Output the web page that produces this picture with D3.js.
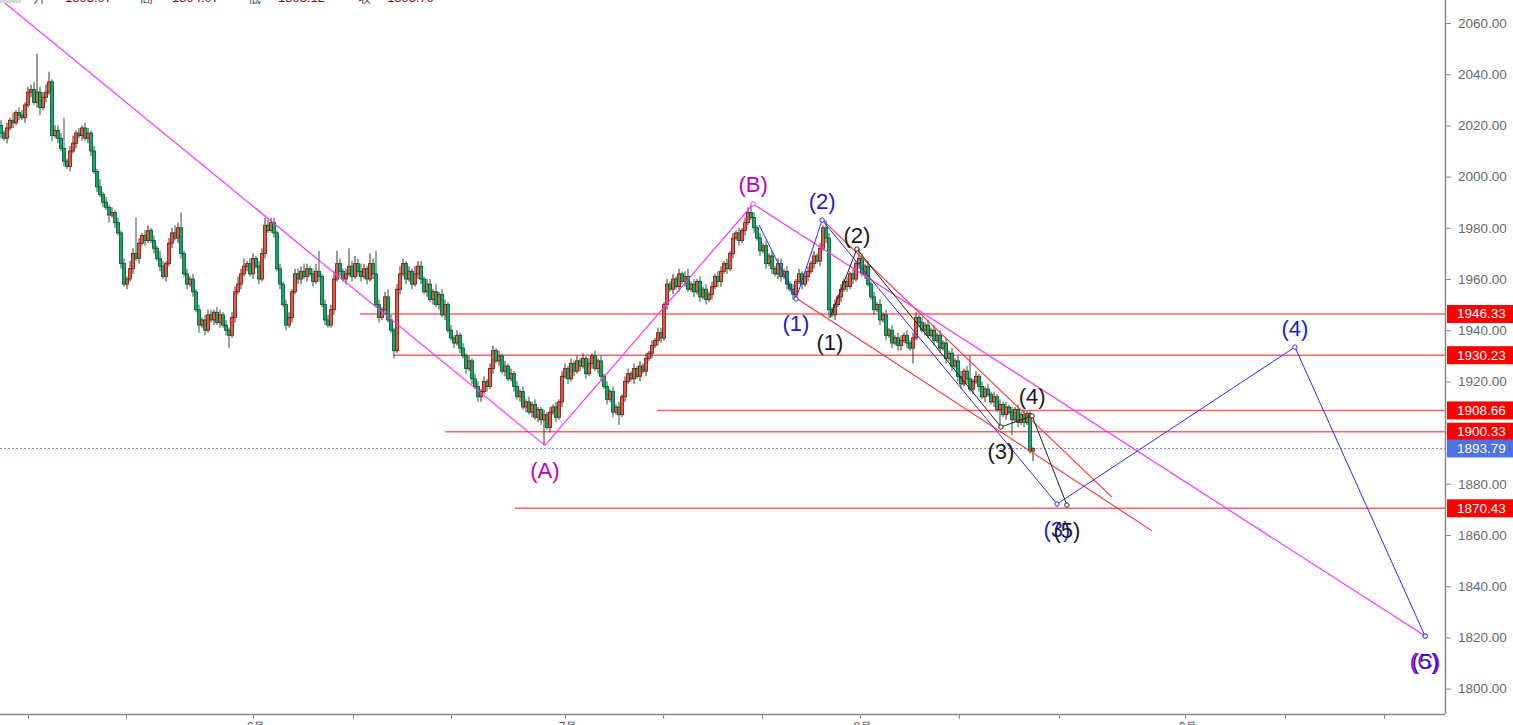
<!DOCTYPE html>
<html><head><meta charset="utf-8">
<script src="https://cdn.jsdelivr.net/npm/d3@7"></script>
<style>html,body{margin:0;padding:0;background:#fff;overflow:hidden}</style>
</head><body>
<svg id="c" width="1513" height="725"></svg>
<script>
// ---- data ----
const firstOpen = 2020;
const closes = [
2017,2015,2019,2022,2021,2025,2024,2023,2028,2033,
2034,2029,2033,2027,2031,2033,2037,2016,2018,2015,
2011,2006,2004,2010,2013,2017,2016,2019,2015,2017,
2010,2002,1996,1993,1990,1988,1985,1986,1982,1978,
1966,1958,1960,1964,1970,1968,1974,1977,1975,1979,
1975,1972,1968,1965,1961,1966,1974,1978,1976,1980,
1970,1962,1958,1960,1955,1948,1942,1944,1940,1946,
1944,1947,1943,1946,1942,1940,1938,1945,1955,1958,
1962,1965,1966,1962,1968,1965,1960,1970,1981,1979,
1982,1978,1964,1958,1950,1942,1945,1955,1962,1960,
1963,1961,1964,1962,1959,1963,1961,1950,1944,1942,
1948,1960,1966,1963,1960,1962,1965,1961,1966,1963,
1961,1964,1960,1966,1962,1950,1945,1948,1953,1944,
1940,1932,1956,1962,1966,1960,1963,1958,1962,1965,
1960,1955,1958,1952,1955,1950,1954,1946,1950,1940,
1937,1935,1938,1933,1930,1925,1928,1921,1918,1914,
1916,1920,1918,1925,1932,1928,1930,1924,1926,1921,
1923,1918,1914,1916,1910,1912,1908,1911,1906,1909,
1905,1907,1902,1908,1910,1906,1912,1922,1925,1921,
1927,1924,1928,1926,1929,1923,1927,1930,1925,1928,
1922,1918,1913,1916,1908,1910,1907,1914,1920,1923,
1921,1925,1922,1926,1924,1929,1931,1934,1936,1939,
1937,1950,1958,1956,1960,1957,1962,1959,1961,1956,
1958,1955,1959,1953,1956,1952,1954,1957,1961,1959,
1963,1966,1964,1970,1976,1978,1975,1979,1982,1986,
1984,1980,1976,1971,1973,1966,1969,1964,1962,1966,
1961,1963,1958,1956,1954,1959,1962,1958,1961,1963,
1966,1969,1967,1972,1980,1976,1948,1946,1950,1953,
1956,1959,1957,1962,1960,1966,1968,1962,1965,1958,
1953,1948,1950,1944,1946,1938,1940,1935,1937,1934,
1936,1938,1935,1933,1937,1945,1943,1940,1942,1938,
1940,1936,1938,1933,1935,1929,1931,1926,1928,1922,
1919,1924,1921,1917,1920,1922,1918,1914,1917,1915,
1912,1914,1909,1911,1907,1910,1908,1905,1909,1904,
1907,1904,1907.5,1892.8,1893.79
];
const upWick = [
2,1,2,1,3,1,2,2,1,2, 2,3,15,2,2,3,4,1,2,2, 2,12,1,2,3,1,2,1,2,2, 1,2,1,3,1,2,1,2,1,2,
1,2,1,3,2,14,2,1,2,2, 1,2,1,3,2,1,2,2,3,2, 6,1,2,1,2,1,2,1,2,2, 2,1,2,2,1,2,1,2,2,3,
2,3,1,2,2,1,2,2,3,2, 2,2,1,2,1,2,2,1,2,2, 2,3,2,1,2,3,8,1,2,2, 2,3,5,2,1,2,7,2,3,2,
3,2,1,4,2,9,2,1,2,3, 2,1,2,3,2,1,2,1,3,2, 2,1,2,2,1,3,1,2,2,1, 2,1,2,1,2,1,2,1,2,2,
1,2,1,2,2,1,2,1,2,1, 2,1,2,1,2,1,2,1,2,1, 1,2,1,2,1,2,1,2,2,1, 2,1,2,1,2,1,2,1,2,1,
2,1,2,1,2,1,2,1,2,2, 1,2,1,2,1,2,1,2,1,2, 2,1,2,1,2,1,2,1,2,3, 1,2,1,2,1,2,1,2,1,2,
2,1,2,1,2,1,2,1,2,2, 3,2,1,2,1,2,1,2,1,2, 2,1,2,1,2,1,2,1,2,2, 1,2,1,2,1,3,2,1,2,1,
2,1,2,1,2,1,4,2,1,2, 1,2,1,2,1,2,1,2,1,2, 2,1,2,1,2,2,1,2,1,2, 1,2,1,2,1,2,1,2,1,2,
2,1,2,9,1,2,1,2,1,2, 1,2,1,2,1,2,1,2,1,2, 1,2,1,1,0.5
];
const downWick = [
2,1,2,1,2,1,2,1,2,1, 2,1,2,3,1,2,1,2,1,2, 1,2,1,2,1,2,1,2,1,2, 2,1,2,1,2,1,3,1,2,1,
2,1,2,1,2,1,2,1,2,1, 1,2,1,2,1,2,1,2,1,2, 2,1,2,1,2,1,3,1,2,1, 1,2,1,2,1,2,5,1,2,1,
2,1,2,1,2,1,2,1,2,1, 1,2,1,2,1,2,1,2,1,2, 2,1,2,1,2,1,2,1,2,1, 1,2,1,2,1,2,1,2,1,2,
2,1,2,1,2,1,2,1,2,1, 1,3,1,2,1,2,1,2,1,2, 2,1,2,1,2,1,2,1,2,1, 1,2,1,2,1,2,1,2,1,2,
2,1,2,1,2,1,2,1,2,1, 1,2,1,2,1,2,1,2,1,2, 2,10,1,2,1,2,1,2,1,2, 1,2,1,2,1,2,1,2,1,2,
2,1,2,1,2,1,4,1,2,1, 1,2,1,2,1,2,1,2,1,2, 2,1,2,1,2,1,2,1,2,1, 1,2,1,2,1,2,1,2,1,2,
2,1,2,1,2,1,2,1,2,1, 1,2,1,2,1,2,1,2,1,2, 2,1,2,1,2,2,1,2,1,2, 1,2,1,2,1,2,3,1,2,1,
2,1,2,1,2,1,2,1,2,1, 1,2,1,2,1,2,1,2,1,2, 2,1,2,1,6,1,2,1,2,1, 1,2,1,2,1,2,1,2,1,2,
2,1,2,1,2,1,2,1,2,1, 1,2,1,7,1,2,1,6,1,2, 1,2,1,1,4
];
const priceTicks = [1800,1820,1840,1860,1880,1900,1920,1940,1960,1980,2000,2020,2040,2060];
const timeTickIdx = [9,41.7,84,117.3,150,188,220.7,253.7,286.3,319.3,352.7,394.7,428,461];
const monthTickIdx = [84,188,286.3,394.7];
const monthTexts = ["6月","7月","8月","9月"];
const levelPrices = [1946.33,1930.23,1908.66,1900.33,1870.43];
const levelStartIdx = [119.7,130.7,218.7,148,171.3];
const lastPrice = 1893.79;
const headerNames = ["开","高","低","收"];
const headerValues = ["1893.07","1894.07","1893.12","1893.79"];

// wave paths: [bar index, price]
const magentaTrend = [[-1,2070],[181.3,1895]];
const magentaWave = [[181.3,1895],[250.7,1989.3],[474.7,1820.5]];
const blueWave = [[252.7,1981.1],[265,1952.2],[273.7,1983],[352,1872.1],[431.3,1933.4],[474.7,1820.5]];
const blackWave = [[276.3,1944.8],[285.3,1971.7],[333.3,1902.2],[343.7,1906.5],[355.3,1871.7]];
const redChannelA = [[273.9,1983],[370.3,1874.8]];
const redChannelB = [[265,1952.6],[383.7,1861.6]];

const magentaLabels = [["(A)",181.3,1894.8,"below"],["(B)",250.7,1989.3,"above"],["(C)",474.7,1820.5,"below"]];
const blueLabels = [["(1)",265,1952.2,"below"],["(2)",273.7,1983,"above"],["(3)",352,1872.1,"below"],["(4)",431.3,1933.4,"above"],["(5)",474.7,1820.5,"below"]];
const blackLabels = [["(1)",276.3,1944.8,"below"],["(2)",285.3,1971.7,"above2"],["(3)",333.3,1902.2,"below"],["(4)",343.7,1906.5,"above"],["(5)",355.3,1871.7,"below"]];

// ---- drawing ----
const W = 1513, H = 725, plotR = 1445, plotB = 714;
const svg = d3.select("#c");
const x = d3.scaleLinear().domain([0,480]).range([1,1441]);
const y = d3.scaleLinear().domain([1800,2060]).range([688.6,23]);
const font = "'Liberation Sans', Arial, sans-serif";

svg.append("defs").append("clipPath").attr("id","plot")
  .append("rect").attr("x",0).attr("y",0).attr("width",plotR).attr("height",plotB);
const plot = svg.append("g").attr("clip-path","url(#plot)");

// horizontal levels
plot.selectAll("line.lvl").data(levelPrices).enter().append("line")
  .attr("x1",(d,i)=>x(levelStartIdx[i])).attr("x2",plotR)
  .attr("y1",d=>y(d)).attr("y2",d=>y(d))
  .attr("stroke","#ff6262").attr("stroke-width",1.6);
plot.append("line").attr("x1",0).attr("x2",plotR).attr("y1",y(lastPrice)).attr("y2",y(lastPrice))
  .attr("stroke","#7088ee").attr("stroke-width",1).attr("stroke-dasharray","2,2");

// candles
const bars = closes.map((c,i)=>{
  const o = i===0 ? firstOpen : closes[i-1];
  return {i,o,c,h:Math.max(o,c)+upWick[i],l:Math.min(o,c)-downWick[i]};
});
const cg = plot.append("g");
cg.selectAll("line.w").data(bars).enter().append("line")
  .attr("x1",d=>x(d.i)).attr("x2",d=>x(d.i))
  .attr("y1",d=>y(d.h)).attr("y2",d=>y(d.l))
  .attr("stroke",d=>d.c>=d.o?"#4a2a22":"#1c5a3a").attr("stroke-width",1);
cg.selectAll("rect.b").data(bars).enter().append("rect")
  .attr("x",d=>x(d.i)-1.6).attr("width",3.2)
  .attr("y",d=>y(Math.max(d.o,d.c)))
  .attr("height",d=>Math.max(1,Math.abs(y(d.o)-y(d.c))))
  .attr("fill",d=>d.c>=d.o?"#e8563f":"#10a866")
  .attr("stroke",d=>d.c>=d.o?"#6e1c1c":"#0b5533").attr("stroke-width",0.8);

// wave lines
const line = d3.line().x(d=>x(d[0])).y(d=>y(d[1]));
function poly(pts,color,w,circles){
  plot.append("path").attr("d",line(pts)).attr("fill","none").attr("stroke",color).attr("stroke-width",w);
  if(circles){
    plot.selectAll(null).data(pts.slice(1)).enter().append("circle")
      .attr("cx",d=>x(d[0])).attr("cy",d=>y(d[1])).attr("r",2.2)
      .attr("fill","#fff").attr("stroke",color).attr("stroke-width",1);
  }
}
poly(redChannelA,"#ff3030",1.1,false);
poly(redChannelB,"#ff3030",1.1,false);
poly(magentaTrend,"#ff33ff",1.2,false);
poly(magentaWave,"#ff33ff",1.2,true);
poly(blueWave,"#2b2bff",1,true);
poly(blackWave,"#222",1,true);

function labels(arr,color){
  svg.selectAll(null).data(arr).enter().append("text")
    .attr("x",d=>x(d[1])).attr("y",d=>y(d[2]) + (d[3]==="below"?25:(d[3]==="above2"?-14:-19)))
    .attr("text-anchor","middle").attr("dominant-baseline","central")
    .attr("font-family",font).attr("font-size",22).attr("fill",color).text(d=>d[0]);
}
labels(magentaLabels,"#c000c0");
labels(blueLabels,"#1c1cc8");
labels(blackLabels,"#1a1a1a");

// axes
svg.append("line").attr("x1",plotR+0.5).attr("x2",plotR+0.5).attr("y1",0).attr("y2",plotB)
  .attr("stroke","#888").attr("stroke-width",1.5);
svg.append("line").attr("x1",0).attr("x2",plotR).attr("y1",plotB+0.5).attr("y2",plotB+0.5)
  .attr("stroke","#888").attr("stroke-width",1.5);

const yAxis = svg.append("g").attr("transform",`translate(${plotR+1},0)`)
  .call(d3.axisRight(y).tickValues(priceTicks).tickFormat(d3.format(".2f")).tickSize(5).tickPadding(7));
yAxis.select(".domain").remove();
yAxis.selectAll("line").attr("stroke","#888");
yAxis.selectAll("text").attr("font-family",font).attr("font-size",13.5).attr("fill","#6a6a6a");

const xAxis = svg.append("g").attr("transform",`translate(0,${plotB+1})`)
  .call(d3.axisBottom(x).tickValues(timeTickIdx).tickFormat("").tickSize(4));
xAxis.select(".domain").remove();
xAxis.selectAll("line").attr("stroke","#888");
svg.selectAll(null).data(monthTickIdx).enter().append("text")
  .attr("x",d=>x(d)+3).attr("y",731).attr("text-anchor","middle")
  .attr("font-family",font).attr("font-size",12).attr("fill","#555")
  .text((d,i)=>monthTexts[i]);

// price boxes
const boxes = levelPrices.map(p=>({p,c:"#ff0000"})).concat([{p:lastPrice,c:"#4d72e3"}]);
const bg = svg.append("g");
bg.selectAll("rect").data(boxes).enter().append("rect")
  .attr("x",plotR+2).attr("width",W-plotR-2).attr("y",d=>y(d.p)-9).attr("height",18)
  .attr("fill",d=>d.c);
bg.selectAll("text").data(boxes).enter().append("text")
  .attr("x",plotR+12).attr("y",d=>y(d.p)).attr("dominant-baseline","central")
  .attr("font-family",font).attr("font-size",13.5).attr("fill","#fff")
  .text(d=>d3.format(".2f")(d.p));

// header (cut off at top)
svg.append("rect").attr("x",0).attr("y",0).attr("width",21).attr("height",3).attr("fill","#d8d8d8");
const hx = [33,140,248,358], vx = [65,172,278,387];
svg.selectAll(null).data(headerNames).enter().append("text")
  .attr("x",(d,i)=>hx[i]).attr("y",2).attr("font-family","'Noto Sans CJK SC', sans-serif")
  .attr("font-size",13).attr("fill","#555").text(d=>d);
svg.selectAll(null).data(headerValues).enter().append("text")
  .attr("x",(d,i)=>vx[i]).attr("y",2).attr("font-family",font)
  .attr("font-size",13).attr("fill","#7a1515").text(d=>d);
</script>
</body></html>
